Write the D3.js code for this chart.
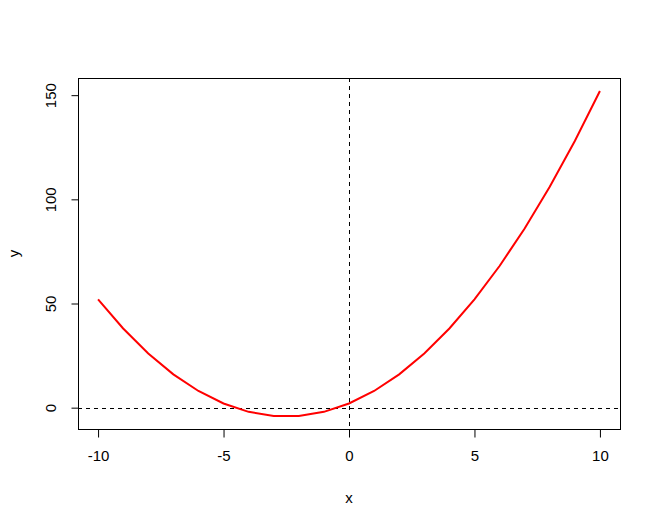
<!DOCTYPE html>
<html>
<head>
<meta charset="utf-8">
<script src="https://cdn.jsdelivr.net/npm/d3@7"></script>
<style>
  body { margin: 0; background: #fff; }
  svg text { font-family: "Liberation Sans", Arial, sans-serif; font-size: 15px; fill: #000; }
</style>
</head>
<body>
<div id="chart"></div>
<script>
// values
var xs = [-10, -9, -8, -7, -6, -5, -4, -3, -2, -1, 0, 1, 2, 3, 4, 5, 6, 7, 8, 9, 10];
var ys = [52, 38, 26, 16, 8, 2, -2, -4, -4, -2, 2, 8, 16, 26, 38, 52, 68, 86, 106, 128, 152];
var xTicks = [-10, -5, 0, 5, 10];
var yTicks = [0, 50, 100, 150];

var width = 661,
    height = 527,
    plotL = 78, plotR = 620, plotT = 78, plotB = 429;

var svg = d3.select("#chart")
            .append("svg")
              .attr("width", width)
              .attr("height", height);

// R pads the data range by 4% each side
var x = d3.scaleLinear()
          .domain([-10.8, 10.8])
          .range([plotL, plotR]);

var y = d3.scaleLinear()
          .domain([-4 - 156 * 0.04, 152 + 156 * 0.04])
          .range([plotB, plotT]);

var xAxis = d3.axisBottom(x).tickValues(xTicks).tickSize(8).tickPadding(12).tickFormat(String);
var gx = svg.append("g")
    .attr("transform", "translate(0," + (plotB + 0.5) + ")")
    .call(xAxis);
gx.attr("font-size", null).attr("font-family", null);
gx.select(".domain").remove();
gx.selectAll("line").attr("stroke", "#000");
gx.selectAll("text").attr("dy", "0.75em");

var yAxis = d3.axisLeft(y).tickValues(yTicks).tickSize(7).tickFormat(String);
var gy = svg.append("g")
    .attr("transform", "translate(" + (plotL + 0.5) + ",0)")
    .call(yAxis);
gy.attr("font-size", null).attr("font-family", null);
gy.select(".domain").remove();
gy.selectAll("line").attr("stroke", "#000");
gy.selectAll("text")
    .attr("x", null)
    .attr("text-anchor", "middle")
    .attr("transform", "translate(-28,0) rotate(-90)")
    .attr("dy", "0.35em");

// zero lines
var y0 = Math.round(y(0)) + 0.5,
    x0 = Math.round(x(0)) + 0.5;
svg.append("line")
    .attr("x1", plotL).attr("x2", plotR)
    .attr("y1", y0).attr("y2", y0)
    .attr("stroke", "#000").attr("stroke-dasharray", "4,4");
svg.append("line")
    .attr("x1", x0).attr("x2", x0)
    .attr("y1", plotT).attr("y2", plotB)
    .attr("stroke", "#000").attr("stroke-dasharray", "4,4");

var line = d3.line()
    .x(function(d, i) { return x(xs[i]); })
    .y(function(d) { return y(d); });

svg.append("path")
    .datum(ys)
    .attr("d", line)
    .attr("fill", "none")
    .attr("stroke", "#ff0000")
    .attr("stroke-width", 2);

// plot box
svg.append("rect")
    .attr("x", plotL + 0.5).attr("y", plotT + 0.5)
    .attr("width", plotR - plotL).attr("height", plotB - plotT)
    .attr("fill", "none").attr("stroke", "#000");

svg.append("text")
    .attr("x", (plotL + plotR) / 2).attr("y", 498)
    .attr("text-anchor", "middle").attr("dy", "0.35em")
    .text("x");

svg.append("text")
    .attr("transform", "translate(14," + (plotT + plotB) / 2 + ") rotate(-90)")
    .attr("text-anchor", "middle").attr("dy", "0.35em")
    .text("y");
</script>
</body>
</html>
